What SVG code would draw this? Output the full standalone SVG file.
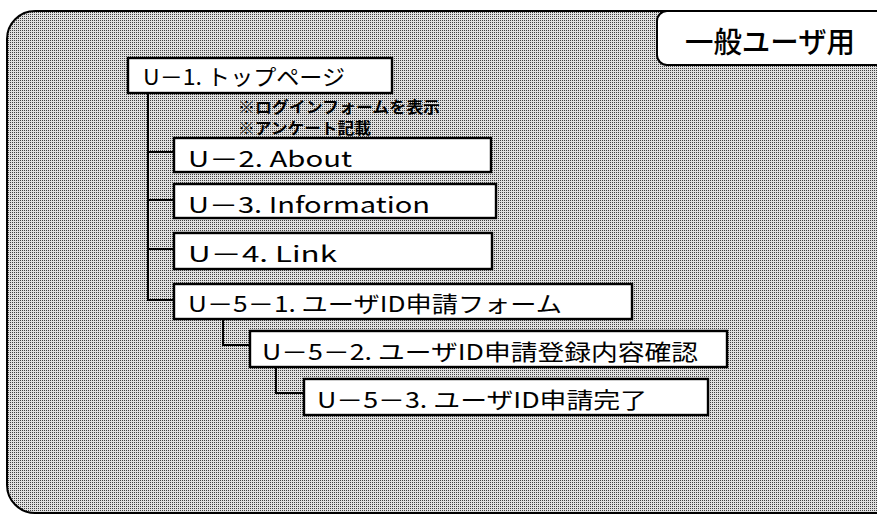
<svg xmlns="http://www.w3.org/2000/svg" width="877" height="516" viewBox="0 0 877 516">
<defs>
<pattern id="dither" width="2" height="2" patternUnits="userSpaceOnUse">
<rect width="2" height="2" fill="#e0e0e0"/>
<rect width="1" height="1" fill="#404040"/>
</pattern>
</defs>
<style>
.frame{fill:url(#dither);stroke:#000;stroke-width:2}
.node rect{fill:#fff;stroke:#000;stroke-width:2.4}
.node text{font-family:"Noto Sans CJK JP","Noto Sans",sans-serif;font-size:22px;font-weight:normal;fill:#000}
.note{font-family:"Noto Sans CJK JP",sans-serif;font-size:15.5px;font-weight:bold;fill:#000}
.conn path{fill:none;stroke:#000;stroke-width:2}
.label rect{fill:#fff;stroke:#000;stroke-width:2}
.label text{font-family:"Noto Sans CJK JP",sans-serif;font-size:29px;font-weight:500;fill:#000}
</style>
<rect class="frame" x="7" y="11" width="900" height="502" rx="28" ry="28"/>
<g id="label" class="label">
<rect x="657" y="11" width="240" height="54" rx="10" ry="10"/>
<text x="685" y="53" textLength="170" lengthAdjust="spacingAndGlyphs">一般ユーザ用</text>
</g>
<g id="connectors" class="conn">
<path d="M148 94 V300 H173"/>
<path d="M148 152 H173"/>
<path d="M148 200 H173"/>
<path d="M148 249 H173"/>
<path d="M223 320 V345 H249"/>
<path d="M276 368 V393 H303"/>
</g>
<g id="u1" class="node">
<rect x="128" y="58" width="264" height="35"/>
<text x="143" y="85" textLength="202" lengthAdjust="spacingAndGlyphs">U－1. トップページ</text>
</g>
<text class="note" x="238" y="113" textLength="202" lengthAdjust="spacingAndGlyphs">※ログインフォームを表示</text>
<text class="note" x="238" y="134" textLength="133" lengthAdjust="spacingAndGlyphs">※アンケート記載</text>
<g id="u2" class="node">
<rect x="174" y="138" width="317" height="34"/>
<text x="188" y="167" textLength="164" lengthAdjust="spacingAndGlyphs">U－2.  About</text>
</g>
<g id="u3" class="node">
<rect x="174" y="184" width="322" height="34"/>
<text x="188" y="213" textLength="242" lengthAdjust="spacingAndGlyphs">U－3.  Information</text>
</g>
<g id="u4" class="node">
<rect x="174" y="233" width="318" height="36"/>
<text x="188" y="262" textLength="149" lengthAdjust="spacingAndGlyphs">U－4.  Link</text>
</g>
<g id="u51" class="node">
<rect x="174" y="284" width="458" height="35"/>
<text x="188" y="312" textLength="374" lengthAdjust="spacingAndGlyphs">U－5－1. ユーザID申請フォーム</text>
</g>
<g id="u52" class="node">
<rect x="250" y="331" width="477" height="36"/>
<text x="262" y="360" textLength="436" lengthAdjust="spacingAndGlyphs">U－5－2. ユーザID申請登録内容確認</text>
</g>
<g id="u53" class="node">
<rect x="304" y="379" width="404" height="36"/>
<text x="317" y="408" textLength="330" lengthAdjust="spacingAndGlyphs">U－5－3. ユーザID申請完了</text>
</g>
</svg>
